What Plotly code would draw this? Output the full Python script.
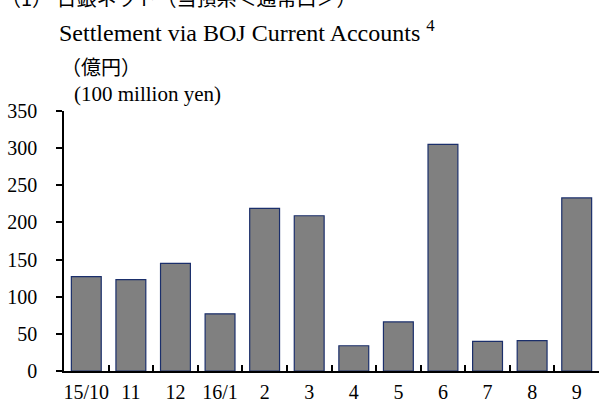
import plotly.graph_objects as go

# Monthly settlement amounts (100 million yen)
months = ["15/10", "11", "12", "16/1", "2", "3", "4", "5", "6", "7", "8", "9"]
settlement = [127, 123, 145, 77, 219, 209, 34, 66, 305, 40, 41, 233]

y_ticks = [0, 50, 100, 150, 200, 250, 300, 350]

SERIF = "Liberation Serif"
CJK = "Noto Sans CJK JP"
W, H = 601, 403
M_L, M_R, M_T, M_B = 64, 2, 111, 32
PLOT_H = H - M_T - M_B


def paper_y(px):
    """Convert a pixel row (from the top of the page) to paper y."""
    return (H - M_B - px) / PLOT_H


def paper_x(px):
    return (px - M_L) / (W - M_L - M_R)


fig = go.Figure(
    go.Bar(
        x=months,
        y=settlement,
        marker=dict(color="#808080", line=dict(color="#1B2F6B", width=1.2)),
        hoverinfo="x+y",
    )
)

fig.update_layout(
    width=W,
    height=H,
    margin=dict(l=M_L, r=M_R, t=M_T, b=M_B, autoexpand=False),
    paper_bgcolor="white",
    plot_bgcolor="white",
    bargap=0.33,
    showlegend=False,
    font=dict(family=SERIF, size=20, color="black"),
    xaxis=dict(
        type="category",
        automargin=False,
        tickangle=0,
        showline=True,
        linecolor="black",
        linewidth=1.5,
        ticks="inside",
        tickson="boundaries",
        ticklen=6,
        tickwidth=1.5,
        tickcolor="black",
        showgrid=False,
        zeroline=False,
        tickfont=dict(family=SERIF, size=20),
        ticklabelstandoff=2,
        fixedrange=True,
    ),
    yaxis=dict(
        range=[0, 350],
        automargin=False,
        tickvals=y_ticks,
        showline=True,
        linecolor="black",
        linewidth=1.5,
        ticks="outside",
        ticklen=6,
        tickwidth=1.5,
        tickcolor="black",
        showgrid=False,
        zeroline=False,
        tickfont=dict(family=SERIF, size=20),
        ticklabelstandoff=15,
        fixedrange=True,
    ),
)

header = [
    ("（1） 日銀ネット（当預系＜通常口＞）", CJK, 20, -1, -3),
    ("Settlement via BOJ Current Accounts <sup>4</sup>", SERIF, 24, 57, 31),
    ("（億円）", CJK, 20, 59, 67),
    ("(100 million yen)", SERIF, 21, 72, 94),
]
for text, family, size, x_px, y_px in header:
    fig.add_annotation(
        text=text,
        xref="paper",
        yref="paper",
        x=paper_x(x_px),
        y=paper_y(y_px),
        xanchor="left",
        yanchor="middle",
        showarrow=False,
        font=dict(family=family, size=size, color="black"),
    )

fig.write_html("out.html")
